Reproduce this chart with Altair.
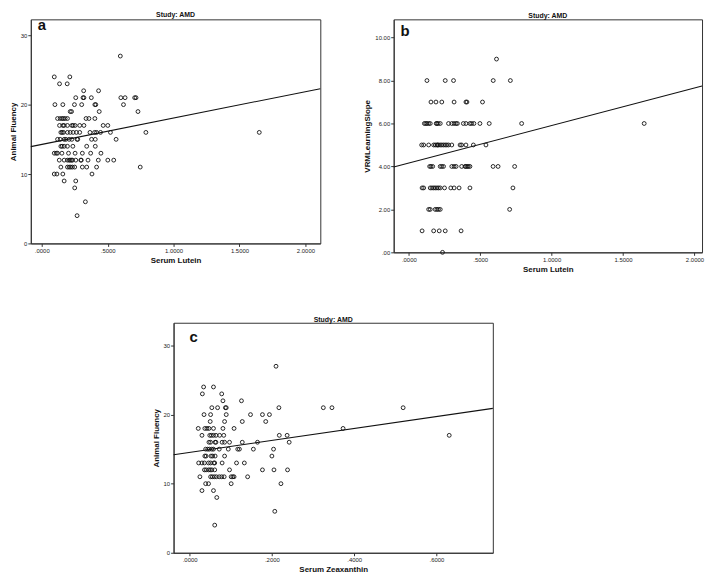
import altair as alt
import pandas as pd

TITLE = "Study: AMD"
FONT = "Liberation Sans"

# ---------- Panel a: Serum Lutein vs Animal Fluency ----------
a_lutein = [
    0.596,
    0.095, 0.213,
    0.135, 0.193,
    0.318, 0.431,
    0.258, 0.313, 0.32, 0.376, 0.60, 0.632, 0.705, 0.715,
    0.10, 0.16, 0.248, 0.303, 0.403, 0.41, 0.62,
    0.216, 0.226, 0.436, 0.73,
    0.12, 0.14, 0.155, 0.165, 0.178, 0.195, 0.336, 0.358, 0.403,
    0.135, 0.16, 0.17, 0.195, 0.228, 0.238, 0.253, 0.288, 0.32, 0.466, 0.501,
    0.145, 0.155, 0.165, 0.195, 0.216, 0.238, 0.263, 0.288, 0.366, 0.401, 0.416, 0.446, 0.521, 0.79, 1.65,
    0.12, 0.14, 0.17, 0.183, 0.208, 0.228, 0.268, 0.273, 0.378, 0.406, 0.564,
    0.145, 0.155, 0.17, 0.195, 0.236, 0.341, 0.406,
    0.095, 0.11, 0.12, 0.153, 0.203, 0.253, 0.308, 0.371, 0.449,
    0.133, 0.17, 0.195, 0.208, 0.216, 0.226, 0.233, 0.258, 0.296, 0.30, 0.351, 0.429, 0.501, 0.546,
    0.145, 0.195, 0.208, 0.22, 0.233, 0.25, 0.308, 0.341, 0.416, 0.747,
    0.095, 0.115, 0.16, 0.381,
    0.17, 0.258,
    0.25,
    0.331,
    0.268,
]
a_fluency = [
    27,
    24, 24,
    23, 23,
    22, 22,
    21, 21, 21, 21, 21, 21, 21, 21,
    20, 20, 20, 20, 20, 20, 20,
    19, 19, 19, 19,
    18, 18, 18, 18, 18, 18, 18, 18, 18,
    17, 17, 17, 17, 17, 17, 17, 17, 17, 17, 17,
    16, 16, 16, 16, 16, 16, 16, 16, 16, 16, 16, 16, 16, 16, 16,
    15, 15, 15, 15, 15, 15, 15, 15, 15, 15, 15,
    14, 14, 14, 14, 14, 14, 14,
    13, 13, 13, 13, 13, 13, 13, 13, 13,
    12, 12, 12, 12, 12, 12, 12, 12, 12, 12, 12, 12, 12, 12,
    11, 11, 11, 11, 11, 11, 11, 11, 11, 11,
    10, 10, 10, 10,
    9, 9,
    8,
    6,
    4,
]
a_fit_lutein = [-0.083, 2.113]
a_fit_fluency = [13.95, 22.3]

# ---------- Panel b: Serum Lutein vs VRMLearningSlope ----------
b_lutein = [
    0.614,
    0.127, 0.255, 0.313, 0.591, 0.711,
    0.155, 0.19, 0.231, 0.317, 0.40, 0.407, 0.516,
    0.109, 0.118, 0.127, 0.139, 0.15, 0.192, 0.197, 0.206, 0.22, 0.278, 0.301, 0.317,
    0.331, 0.34, 0.382, 0.40, 0.428, 0.44, 0.456, 0.498, 0.563, 0.79, 1.648,
    0.09, 0.104, 0.139, 0.174, 0.185, 0.197, 0.201, 0.208, 0.22, 0.231, 0.243, 0.255,
    0.266, 0.278, 0.301, 0.359, 0.37, 0.40, 0.452, 0.54,
    0.146, 0.155, 0.167, 0.22, 0.231, 0.243, 0.301, 0.317, 0.331, 0.37, 0.394, 0.40,
    0.41, 0.417, 0.428, 0.59, 0.625, 0.741,
    0.093, 0.104, 0.15, 0.162, 0.174, 0.185, 0.197, 0.208, 0.22, 0.25, 0.294, 0.317, 0.352, 0.428, 0.729,
    0.139, 0.15, 0.185, 0.197, 0.208, 0.22, 0.706,
    0.093, 0.174, 0.213, 0.255, 0.366,
    0.236,
]
b_slope = [
    9,
    8, 8, 8, 8, 8,
    7, 7, 7, 7, 7, 7, 7,
    6, 6, 6, 6, 6, 6, 6, 6, 6, 6, 6, 6,
    6, 6, 6, 6, 6, 6, 6, 6, 6, 6, 6,
    5, 5, 5, 5, 5, 5, 5, 5, 5, 5, 5, 5,
    5, 5, 5, 5, 5, 5, 5, 5,
    4, 4, 4, 4, 4, 4, 4, 4, 4, 4, 4, 4,
    4, 4, 4, 4, 4, 4,
    3, 3, 3, 3, 3, 3, 3, 3, 3, 3, 3, 3, 3, 3, 3,
    2, 2, 2, 2, 2, 2, 2,
    1, 1, 1, 1, 1,
    0,
]
b_fit_lutein = [-0.106, 2.053]
b_fit_slope = [3.97, 7.75]

# ---------- Panel c: Serum Zeaxanthin vs Animal Fluency ----------
c_zeax = [
    0.21,
    0.034, 0.058,
    0.031, 0.078,
    0.081, 0.126,
    0.054, 0.068, 0.087, 0.089, 0.217, 0.325, 0.346, 0.519,
    0.035, 0.051, 0.089, 0.148, 0.177, 0.194,
    0.05, 0.085, 0.128, 0.185,
    0.021, 0.037, 0.042, 0.047, 0.058, 0.081, 0.108, 0.373,
    0.03, 0.049, 0.053, 0.058, 0.064, 0.073, 0.083, 0.218, 0.237, 0.631,
    0.047, 0.051, 0.062, 0.064, 0.079, 0.085, 0.097, 0.128, 0.165, 0.242,
    0.039, 0.044, 0.048, 0.054, 0.058, 0.072, 0.094, 0.117, 0.121, 0.155, 0.204,
    0.037, 0.04, 0.052, 0.056, 0.062, 0.085, 0.2,
    0.022, 0.03, 0.036, 0.046, 0.051, 0.059, 0.061, 0.079, 0.114, 0.133,
    0.036, 0.04, 0.046, 0.05, 0.054, 0.061, 0.097, 0.177, 0.205, 0.238,
    0.025, 0.051, 0.055, 0.06, 0.065, 0.072, 0.078, 0.084, 0.101, 0.105, 0.108, 0.141,
    0.039, 0.046, 0.101, 0.222,
    0.03, 0.058,
    0.066,
    0.207,
    0.061,
]
c_fluency = [
    27,
    24, 24,
    23, 23,
    22, 22,
    21, 21, 21, 21, 21, 21, 21, 21,
    20, 20, 20, 20, 20, 20,
    19, 19, 19, 19,
    18, 18, 18, 18, 18, 18, 18, 18,
    17, 17, 17, 17, 17, 17, 17, 17, 17, 17,
    16, 16, 16, 16, 16, 16, 16, 16, 16, 16,
    15, 15, 15, 15, 15, 15, 15, 15, 15, 15, 15,
    14, 14, 14, 14, 14, 14, 14,
    13, 13, 13, 13, 13, 13, 13, 13, 13, 13,
    12, 12, 12, 12, 12, 12, 12, 12, 12, 12,
    11, 11, 11, 11, 11, 11, 11, 11, 11, 11, 11, 11,
    10, 10, 10, 10,
    9, 9,
    8,
    6,
    4,
]
c_fit_zeax = [-0.039, 0.737]
c_fit_fluency = [14.2, 20.9]

# ---------- ticks ----------
lutein_ticks = [0, 0.5, 1.0, 1.5, 2.0]
zeax_ticks = [0, 0.2, 0.4, 0.6]
fluency_ticks = [0, 10, 20, 30]
slope_ticks = [0, 2, 4, 6, 8, 10]

DEC4 = "datum.value < 1 ? slice(format(datum.value, '.4f'), 1) : format(datum.value, '.4f')"
DEC2 = "datum.value < 1 ? slice(format(datum.value, '.2f'), 1) : format(datum.value, '.2f')"
INT = "format(datum.value, 'd')"


def axis(values, expr, title):
    return alt.Axis(
        values=values, labelExpr=expr, title=title, grid=False,
        tickSize=3, tickWidth=1, tickColor="#333",
        domainColor="#333", domainWidth=1,
        labelFont=FONT, labelFontSize=6, labelColor="#222", labelPadding=1,
        labelOverlap=False, labelFlush=False,
        titleFont=FONT, titleFontSize=8, titleFontWeight="bold",
        titleColor="#111", titlePadding=3,
    )


def panel(x, y, fx, fy, letter, xdom, ydom, xax, yax, w, h, lx, ly):
    pts = pd.DataFrame({"x": x, "y": y})
    fit = pd.DataFrame({"x": fx, "y": fy})
    X = alt.X("x:Q", scale=alt.Scale(domain=xdom, nice=False, zero=False), axis=xax)
    Y = alt.Y("y:Q", scale=alt.Scale(domain=ydom, nice=False, zero=False), axis=yax)
    points = alt.Chart(pts).mark_point(
        shape="circle", filled=False, size=15, strokeWidth=0.9,
        color="#111", opacity=1,
    ).encode(x=X, y=Y)
    line = alt.Chart(fit).mark_line(color="#111", strokeWidth=1.1).encode(x=X, y=Y)
    lab = alt.Chart(pd.DataFrame({"t": [letter]})).mark_text(
        font=FONT, fontSize=15, fontWeight="bold", align="left",
        baseline="alphabetic", color="#111",
    ).encode(text="t:N", x=alt.value(lx), y=alt.value(ly))
    return alt.layer(points, line, lab).properties(
        width=w, height=h,
        title=alt.TitleParams(TITLE, font=FONT, fontSize=7, fontWeight="bold",
                              offset=0, color="#111"),
    )


pa = panel(a_lutein, a_fluency, a_fit_lutein, a_fit_fluency, "a",
           [-0.083, 2.113], [0, 32.29],
           axis(lutein_ticks, DEC4, "Serum Lutein"),
           axis(fluency_ticks, INT, "Animal Fluency"),
           292, 226, 7, 11)

pb = panel(b_lutein, b_slope, b_fit_lutein, b_fit_slope, "b",
           [-0.106, 2.053], [0, 10.85],
           axis(lutein_ticks, DEC4, "Serum Lutein"),
           axis(slope_ticks, DEC2, "VRMLearningSlope"),
           311, 235, 7, 17)

pc = panel(c_zeax, c_fluency, c_fit_zeax, c_fit_fluency, "c",
           [-0.039, 0.737], [0, 33.3],
           axis(zeax_ticks, DEC4, "Serum Zeaxanthin"),
           axis(fluency_ticks, INT, "Animal Fluency"),
           322, 232, 16, 19)

spacer = alt.Chart(pd.DataFrame({"s": [0]})).mark_point(size=0, opacity=0).encode(
    x=alt.value(0), y=alt.value(0)
).properties(width=121, height=1, view=alt.ViewBackground(strokeOpacity=0))

row1 = alt.hconcat(pa, pb, spacing=40)
row2 = alt.hconcat(spacer, pc, spacing=0)

chart = alt.vconcat(row1, row2, spacing=41).properties(
    padding=0, background="white"
).configure_view(stroke="#333", strokeWidth=1)

chart.save("out.html", embed_options={"renderer": "svg", "actions": False})
